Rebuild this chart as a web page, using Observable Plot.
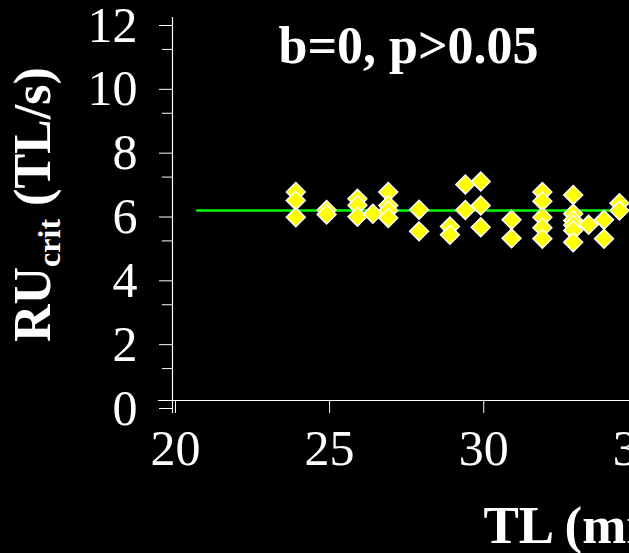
<!DOCTYPE html>
<html>
<head>
<meta charset="utf-8">
<script src="https://cdn.jsdelivr.net/npm/d3@7"></script>
<script src="https://cdn.jsdelivr.net/npm/@observablehq/plot@0.6"></script>
<style>
  html, body { margin: 0; padding: 0; background: #000; }
  #wrap { width: 629px; height: 553px; overflow: hidden; background: #000; }
</style>
</head>
<body>
<div id="wrap"></div>
<script>
// Total length (mm) and critical swimming speed (TL/s)
const tl = [
  24, 24, 24,
  25, 25,
  26, 26, 26,
  26.5,
  27, 27, 27, 27,
  28, 28,
  29, 29,
  29.5, 29.5,
  30, 30, 30,
  31, 31,
  32, 32, 32, 32, 32,
  33, 33, 33, 33, 33, 33,
  33.5,
  34, 34,
  34.5, 34.5
];
const ru = [
  6.53, 6.27, 5.74,
  5.97, 5.83,
  6.32, 6.12, 5.76,
  5.85,
  6.53, 6.11, 5.95, 5.72,
  5.98, 5.30,
  5.45, 5.19,
  6.77, 5.97,
  6.86, 6.11, 5.43,
  5.66, 5.08,
  6.53, 6.24, 5.74, 5.41, 5.07,
  6.44, 5.85, 5.64, 5.50, 5.33, 4.96,
  5.51,
  5.66, 5.07,
  6.18, 5.95
];
// Fitted line (slope 0)
const fitX = [20.8, 37];
const fitY = [5.95, 5.95];

const yMajorTicks = [0, 2, 4, 6, 8, 10, 12];
const yMinorTicks = [1, 3, 5, 7, 9, 11];
const xTicks = [20, 25, 30, 35];
const titleText = "b=0, p>0.05";
const xLabel = "TL (mm)";

const points = tl.map((t, i) => ({tl: t, ru: ru[i]}));
const fit = fitX.map((x, i) => ({x, y: fitY[i]}));

const chart = Plot.plot({
  width: 696,
  height: 553,
  marginLeft: 172,
  marginRight: 0,
  marginTop: 17,
  marginBottom: 153,
  style: {background: "#000", color: "#fff", fontFamily: "Liberation Serif", maxWidth: "none", overflow: "visible"},
  x: {domain: [20, 37]},
  y: {domain: [0, 12]},
  marks: [
    Plot.axisY({ticks: yMajorTicks, tickSize: 13, tickPadding: 22, fontSize: 50, dy: 8, color: "#fff", label: null}),
    Plot.axisY({ticks: yMinorTicks, tickSize: 10, text: null, color: "#fff", label: null}),
    Plot.axisX({ticks: xTicks, tickSize: 13, tickPadding: 16, fontSize: 50, dx: 3, color: "#fff", label: null}),
    Plot.ruleY([0], {stroke: "#fff", strokeWidth: 1.2, insetLeft: -14}),
    Plot.ruleX([20], {stroke: "#fff", strokeWidth: 1.2, insetBottom: -13}),
    Plot.line(fit, {x: "x", y: "y", stroke: "#00ff00", strokeWidth: 2.5}),
    Plot.dot(points, {x: "tl", y: "ru", symbol: "diamond2", r: 8.5, fill: "#ffff00", stroke: "#fff", strokeWidth: 1.5}),
    Plot.text([titleText], {frameAnchor: "top-left", textAnchor: "start", lineAnchor: "bottom", dx: 106, dy: 45, fontSize: 52, fontWeight: "bold", fill: "#fff"}),
    Plot.text([xLabel], {frameAnchor: "bottom-left", textAnchor: "start", lineAnchor: "bottom", dx: 311, dy: 142, fontSize: 53, fontWeight: "bold", fill: "#fff"})
  ]
});

// Y axis label with subscript
const t = d3.select(chart).append("text")
  .attr("transform", "translate(50,342) rotate(-90)")
  .attr("fill", "#fff")
  .attr("font-family", "Liberation Serif")
  .attr("font-weight", "bold")
  .attr("font-size", 52)
  .attr("text-anchor", "start");
t.append("tspan").text("RU");
t.append("tspan").attr("font-size", 32).attr("dy", 10).text("crit");
t.append("tspan").attr("dy", -10).text(" (TL/s)");

document.getElementById("wrap").appendChild(chart);
</script>
</body>
</html>
